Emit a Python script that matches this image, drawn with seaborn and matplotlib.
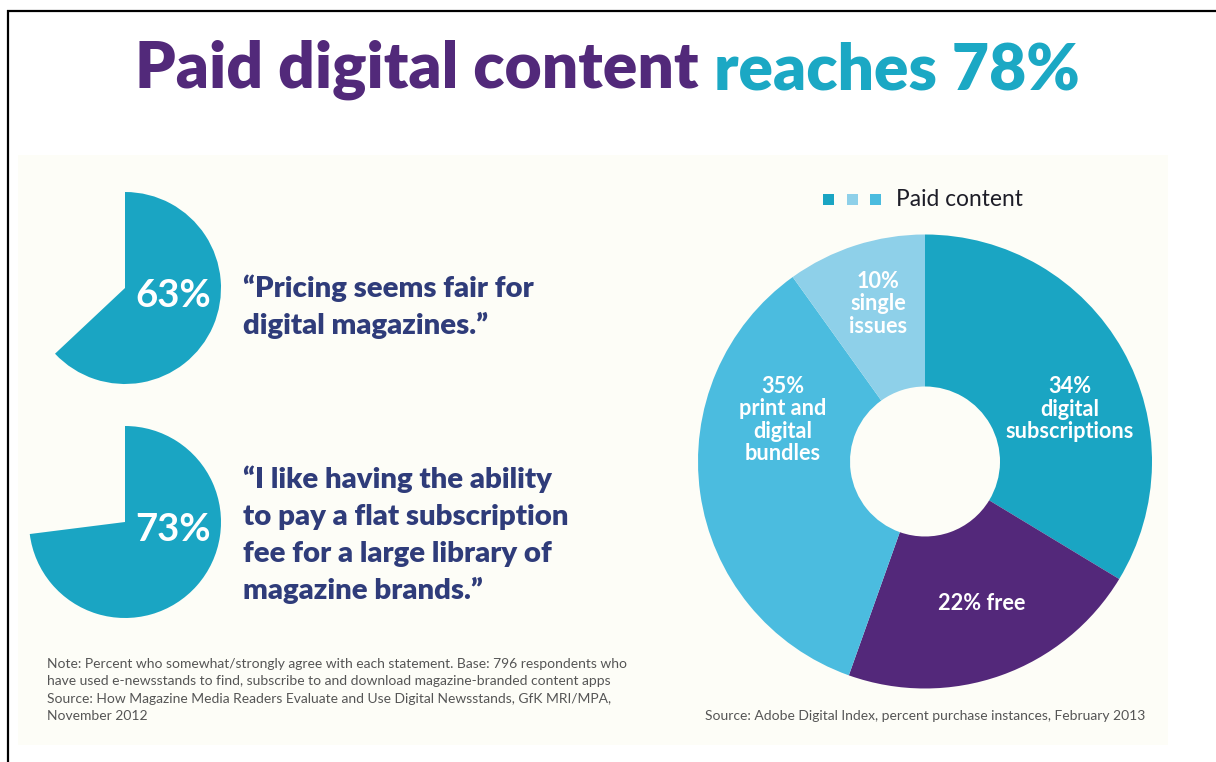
import matplotlib
matplotlib.use("Agg")
import matplotlib.pyplot as plt
import seaborn as sns
from matplotlib.patches import Rectangle

# ---- content -------------------------------------------------------------
title_parts = ["Paid digital content", "reaches 78%"]

agree_share = [63, 73]
agree_labels = ["63%", "73%"]
quotes = [
    ["\u201cPricing seems fair for", "digital magazines.\u201d"],
    ["\u201cI like having the ability", "to pay a flat subscription",
     "fee for a large library of", "magazine brands.\u201d"],
]
note_lines = [
    "Note: Percent who somewhat/strongly agree with each statement. Base: 796 respondents who",
    "have used e-newsstands to find, subscribe to and download magazine-branded content apps",
    "Source: How Magazine Media Readers Evaluate and Use Digital Newsstands, GfK MRI/MPA,",
    "November 2012",
]

mix_categories = ["digital subscriptions", "free", "print and digital bundles", "single issues"]
mix_values = [34, 22, 35, 10]
mix_labels = ["34%\ndigital\nsubscriptions", "22% free",
              "35%\nprint and\ndigital\nbundles", "10%\nsingle\nissues"]
legend_label = "Paid content"
mix_source = "Source: Adobe Digital Index, percent purchase instances, February 2013"

# ---- style ---------------------------------------------------------------
sns.set_theme(style="white")
plt.rcParams["font.family"] = ["Lato", "DejaVu Sans"]

TEAL, PURPLE, MID, LIGHT = "#1AA5C3", "#53287A", "#4BBCDF", "#8ED0E9"
mix_palette = sns.color_palette([TEAL, PURPLE, MID, LIGHT])
NAVY = "#2F3C7A"
PANEL = "#FDFDF7"

W, H = 1216, 762
fig = plt.figure(figsize=(W / 100, H / 100), dpi=100)
fig.patch.set_facecolor("white")
ax = fig.add_axes([0, 0, 1, 1])


def Y(y):
    """Top-down pixel row -> data y."""
    return H - y


# panel and frame
ax.add_patch(Rectangle((18, Y(745)), 1150, 590, facecolor=PANEL, edgecolor="none", zorder=0))
ax.plot([7, W], [Y(10.5), Y(10.5)], color="black", lw=1.6, solid_capstyle="butt", zorder=1)
ax.plot([7.5, 7.5], [Y(10), -5], color="black", lw=1.6, solid_capstyle="butt", zorder=1)

# ---- survey pies with quotes --------------------------------------------
pie_centers = [(125, 288), (125, 522)]
quote_baselines = [(296.5, 37.5), (488, 37)]
for share, label, (cx, cy), lines, (b0, step) in zip(
        agree_share, agree_labels, pie_centers, quotes, quote_baselines):
    wedges, _ = ax.pie([share, 100 - share], colors=[TEAL, "none"], startangle=90,
                       counterclock=False, radius=96, center=(cx, Y(cy)),
                       wedgeprops=dict(linewidth=0))
    wedges[1].set_visible(False)
    ax.text(cx + 48, Y(cy + 8), label, color="white", fontsize=27.5, fontweight="bold",
            ha="center", va="center")
    for k, line in enumerate(lines):
        ax.text(243, Y(b0 + k * step), line, color=NAVY, fontsize=21.2,
                fontweight="heavy", ha="left", va="baseline")

for k, line in enumerate(note_lines):
    ax.text(47, Y(668 + k * 17.4), line, color="#555555", fontsize=10.0,
            ha="left", va="baseline")

# ---- purchase-mix donut --------------------------------------------------
dcx, dcy, R, r_in = 925, 461.5, 227, 75
ax.pie(mix_values, colors=mix_palette, startangle=90, counterclock=False,
       radius=R, center=(dcx, Y(dcy)), wedgeprops=dict(width=R - r_in, linewidth=0))
label_pos = [(1070, 409), (982, 603), (783, 420), (878, 304)]
for text, (lx, ly) in zip(mix_labels, label_pos):
    ax.text(lx, Y(ly), text, color="white", fontsize=15.6, fontweight="bold",
            ha="center", va="center", linespacing=1.08)

for x0, c in zip([823, 847, 870], [TEAL, LIGHT, MID]):
    ax.add_patch(Rectangle((x0, Y(205)), 11, 11, facecolor=c, edgecolor="none"))
ax.text(896, Y(199), legend_label, color="#1E1E28", fontsize=16.4, ha="left", va="center")
ax.text(705, Y(720), mix_source, color="#555555", fontsize=10.0, ha="left", va="baseline")

# ---- title ---------------------------------------------------------------
t1 = ax.text(135, Y(88), title_parts[0], color="#52297A", fontsize=46.2,
             fontweight="heavy", ha="left", va="baseline")
t2 = ax.annotate(title_parts[1], xy=(1, 0), xycoords=t1, xytext=(15, 0),
                 textcoords="offset pixels", color="#1BA8C4", fontsize=46.2,
                 fontweight="heavy", ha="left", va="bottom")

ax.set_xlim(0, W)
ax.set_ylim(0, H)
ax.set_aspect("auto")
ax.axis("off")

fig.savefig("out.png", dpi=100, facecolor="white")
